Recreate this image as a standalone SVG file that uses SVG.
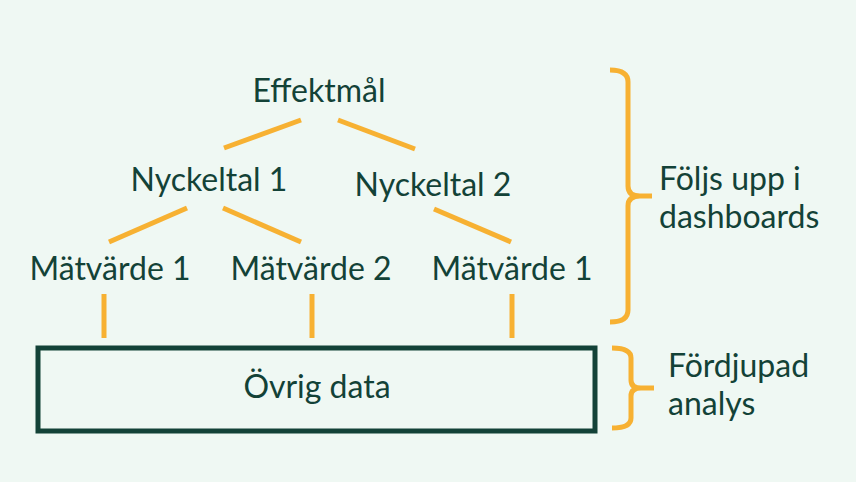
<svg xmlns="http://www.w3.org/2000/svg" width="856" height="482" viewBox="0 0 856 482">
<style>
.t{font-family:Lato,"Noto Sans","Liberation Sans",sans-serif;font-size:32px;fill:#134237}
.c{text-anchor:middle}
.l{stroke:#F7B132;stroke-width:5;fill:none}
.b{stroke:#F7B132;stroke-width:5;fill:none;stroke-linejoin:round}
</style>
<rect width="856" height="482" fill="#EFF8F3"/>
<g id="connectors">
<line class="l" x1="301" y1="120" x2="224" y2="148"/>
<line class="l" x1="338" y1="120" x2="415" y2="149"/>
<line class="l" x1="187" y1="208" x2="109" y2="242"/>
<line class="l" x1="223" y1="208" x2="301" y2="242"/>
<line class="l" x1="434" y1="209" x2="511" y2="242"/>
<line class="l" x1="104" y1="294" x2="104" y2="338"/>
<line class="l" x1="312" y1="294" x2="312" y2="338"/>
<line class="l" x1="512" y1="294" x2="512" y2="338"/>
</g>
<g id="effektmal"><text class="t c" x="319" y="102">Effektmål</text></g>
<g id="nyckeltal1"><text class="t c" x="209" y="191">Nyckeltal 1</text></g>
<g id="nyckeltal2"><text class="t c" x="433" y="196">Nyckeltal 2</text></g>
<g id="matvarde1"><text class="t c" x="110" y="280">Mätvärde 1</text></g>
<g id="matvarde2"><text class="t c" x="311" y="280">Mätvärde 2</text></g>
<g id="matvarde3"><text class="t c" x="512" y="280">Mätvärde 1</text></g>
<g id="ovrigdata">
<rect x="38" y="348" width="557" height="83" fill="none" stroke="#134237" stroke-width="5"/>
<text class="t c" x="317" y="398">Övrig data</text>
</g>
<g id="bracket-dashboards">
<path class="b" d="M610,70 Q628,70 628,82 L628,186 Q628,196 640,196 L652,196 M640,196 Q628,196 628,206 L628,310 Q628,322 610,322"/>
<text class="t" x="659" y="190">Följs upp i</text>
<text class="t" x="659" y="228">dashboards</text>
</g>
<g id="bracket-analys">
<path class="b" d="M612,348 Q631,348 631,358 L631,380 Q631,388 641,388 L654,388 M641,388 Q631,388 631,396 L631,418 Q631,428 612,428"/>
<text class="t" x="668" y="377">Fördjupad</text>
<text class="t" x="668" y="415">analys</text>
</g>
</svg>
